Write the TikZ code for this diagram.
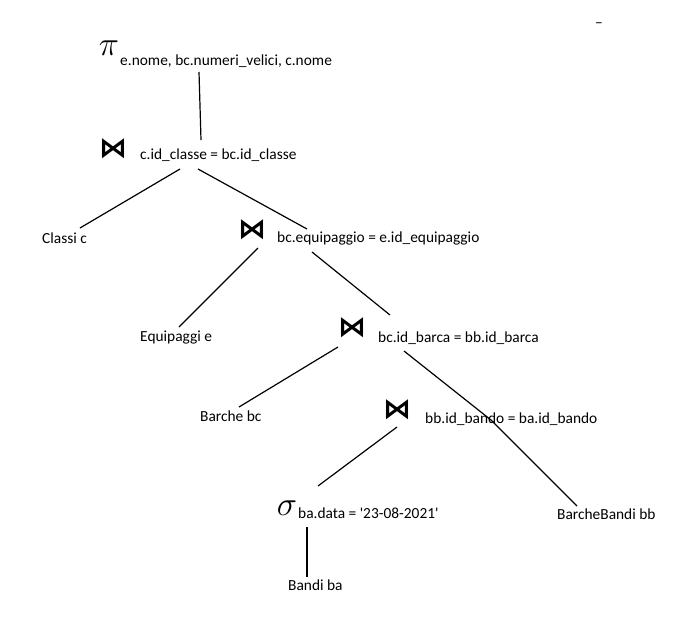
\RequirePackage{fix-cm}
\documentclass[tikz,border=0pt]{standalone}
\usepackage{fontspec}
\setmainfont{Carlito}
\newfontfamily\joinfont{DejaVu Sans}
\usepackage{tikz}
\tikzstyle{rel} = [inner sep=0pt, font=\fontsize{15.4}{18}\selectfont]
\tikzstyle{op} = [inner sep=0pt, font=\fontsize{34}{34}\selectfont]
\tikzstyle{joinop} = [inner sep=0pt, font=\joinfont\bfseries\fontsize{28}{28}\selectfont]
\tikzstyle{edge} = [line width=1.2pt]

\begin{document}
\begin{tikzpicture}[x=1pt, y=-1pt]

        \useasboundingbox (0,0) rectangle (687,641);

        \node (stray) [rel, anchor=base] at (599,27) {--};

        \node (proj) [op] at (109,48) {$\pi$};
        \node (projattr) [rel, anchor=base west] at (120,65) {e.nome, bc.numeri\_velici, c.nome};

        \node (join1) [joinop] at (113,149) {⋈};
        \node (cond1) [rel, anchor=base west] at (140,159) {c.id\_classe = bc.id\_classe};
        \node (classi) [rel, anchor=base west] at (42,243) {Classi c};

        \node (join2) [joinop] at (252,230) {⋈};
        \node (cond2) [rel, anchor=base west] at (277,242) {bc.equipaggio = e.id\_equipaggio};
        \node (equip) [rel, anchor=base west] at (140,341) {Equipaggi e};

        \node (join3) [joinop] at (352,328) {⋈};
        \node (cond3) [rel, anchor=base west] at (378,342) {bc.id\_barca = bb.id\_barca};
        \node (barche) [rel, anchor=base west] at (200,421) {Barche bc};

        \node (join4) [joinop] at (397,410) {⋈};
        \node (cond4) [rel, anchor=base west] at (425,423) {bb.id\_bando = ba.id\_bando};
        \node (barchebandi) [rel, anchor=base west] at (557,519) {BarcheBandi bb};
        \coordinate (bend) at (491,420);

        \node (sel) [op] at (287,508) {$\sigma$};
        \node (selcond) [rel, anchor=base west] at (298,518) {ba.data = \textquotesingle 23-08-2021\textquotesingle};
        \node (bandi) [rel, anchor=base west] at (288,590) {Bandi ba};

        \draw [edge] ([shift={(79,7)}]projattr.base west) -- ([shift={(61,-19)}]cond1.base west);
        \draw [edge] ([shift={(40,10)}]cond1.base west) -- ([shift={(38,-15)}]classi.base west);
        \draw [edge] ([shift={(58,10)}]cond1.base west) -- ([shift={(30,-13)}]cond2.base west);
        \draw [edge] ([shift={(6,18)}]join2.center) -- ([shift={(39,-14)}]equip.base west);
        \draw [edge] ([shift={(35,10)}]cond2.base west) -- ([shift={(12,-27)}]cond3.base west);
        \draw [edge] ([shift={(-14,19)}]join3.center) -- ([shift={(39,-14)}]barche.base west);
        \draw [edge] ([shift={(26,9)}]cond3.base west) -- (bend) -- ([shift={(20,-13)}]barchebandi.base west);
        \draw [edge] ([shift={(0,17)}]join4.center) -- ([shift={(31,-22)}]sel.center);
        \draw [edge] ([shift={(9,9)}]selcond.base west) -- ([shift={(19,-13)}]bandi.base west);

\end{tikzpicture}
\end{document}
